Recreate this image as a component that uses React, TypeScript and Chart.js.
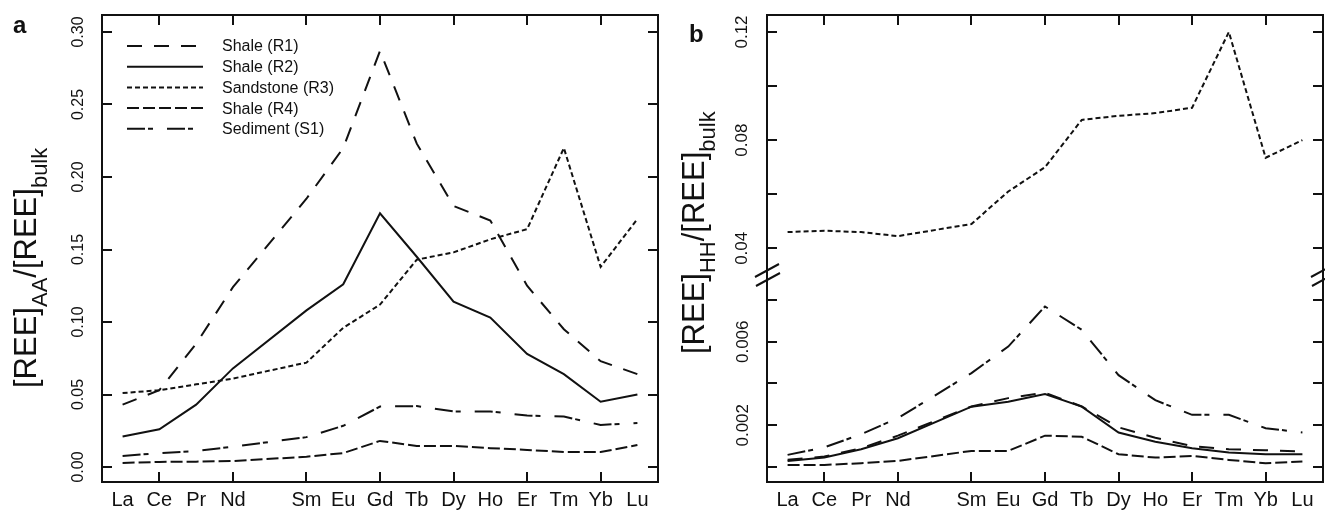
import React, { useEffect, useRef } from 'react';
import { Chart, registerables } from 'chart.js';

Chart.register(...registerables);

// ---------------- data ----------------
const elements = ['La', 'Ce', 'Pr', 'Nd', 'Sm', 'Eu', 'Gd', 'Tb', 'Dy', 'Ho', 'Er', 'Tm', 'Yb', 'Lu'];
const atomicNumbers = [57, 58, 59, 60, 62, 63, 64, 65, 66, 67, 68, 69, 70, 71];
const xTickMarks = [58, 60, 62, 64, 66, 68, 70];
const seriesNames = ['Shale (R1)', 'Shale (R2)', 'Sandstone (R3)', 'Shale (R4)', 'Sediment (S1)'];

// panel a: [REE]AA/[REE]bulk
const aShaleR1 = [0.043, 0.053, 0.085, 0.124, 0.185, 0.22, 0.287, 0.223, 0.18, 0.17, 0.125, 0.095, 0.073, 0.064];
const aShaleR2 = [0.021, 0.026, 0.043, 0.068, 0.108, 0.126, 0.175, 0.145, 0.114, 0.103, 0.078, 0.064, 0.045, 0.05];
const aSandstoneR3 = [0.051, 0.053, 0.057, 0.061, 0.072, 0.096, 0.112, 0.143, 0.148, 0.157, 0.164, 0.22, 0.138, 0.171];
const aShaleR4 = [0.0028, 0.0035, 0.0037, 0.0041, 0.0071, 0.0096, 0.018, 0.0145, 0.0145, 0.013, 0.0118, 0.0103, 0.0103, 0.0152];
const aSedimentS1 = [0.0076, 0.0096, 0.011, 0.014, 0.0206, 0.0284, 0.0417, 0.042, 0.0383, 0.0383, 0.0355, 0.0348, 0.029, 0.0304];

// panel b: [REE]HH/[REE]bulk
const bShaleR1 = [0.00035, 0.0005, 0.0009, 0.0015, 0.0029, 0.0033, 0.00356, 0.0029, 0.0019, 0.0014, 0.001, 0.00085, 0.0008, 0.00075];
const bShaleR2 = [0.00029, 0.00046, 0.00085, 0.00138, 0.00289, 0.00313, 0.0035, 0.00289, 0.00165, 0.00121, 0.0009, 0.00069, 0.00061, 0.00061];
const bSandstoneR3 = [0.046, 0.0465, 0.046, 0.0445, 0.049, 0.061, 0.07, 0.0875, 0.089, 0.09, 0.092, 0.12, 0.0735, 0.08];
const bShaleR4 = [0.0001, 0.0001, 0.00018, 0.00029, 0.00077, 0.00077, 0.0015, 0.00145, 0.00061, 0.00045, 0.00053, 0.00034, 0.00018, 0.00026];
const bSedimentS1 = [0.00058, 0.00094, 0.00157, 0.00234, 0.0045, 0.00577, 0.00769, 0.00657, 0.0044, 0.0032, 0.0025, 0.0025, 0.00186, 0.00165];

const aYTicks = [0, 0.05, 0.1, 0.15, 0.2, 0.25, 0.3];
const bUpperTicks = [0.04, 0.06, 0.08, 0.1, 0.12];
const bUpperLabeled = [0.04, 0.08, 0.12];
const bLowerTicks = [0, 0.002, 0.004, 0.006, 0.008];
const bLowerLabeled = [0.002, 0.006];

const aTitleParts = [
  { text: '[REE]', sub: false },
  { text: 'AA', sub: true },
  { text: '/[REE]', sub: false },
  { text: 'bulk', sub: true },
];
const bTitleParts = [
  { text: '[REE]', sub: false },
  { text: 'HH', sub: true },
  { text: '/[REE]', sub: false },
  { text: 'bulk', sub: true },
];

// ---------------- styles ----------------
const INK = '#111111';
const FONT = "'Liberation Sans', Arial, Helvetica, sans-serif";
const dashStyles = [[15, 12], [], [5, 3], [12, 4], [18, 3, 5, 14]];
const TICK_LEN = 10;

function makeDataset(label: string, values: number[], dash: number[], yAxisID: string) {
  return {
    label,
    data: atomicNumbers.map((x, i) => ({ x, y: values[i] })),
    borderColor: INK,
    backgroundColor: INK,
    borderWidth: 2,
    borderDash: dash,
    pointRadius: 0,
    pointHoverRadius: 0,
    fill: false,
    tension: 0,
    yAxisID,
  };
}

function isIn(list: number[], v: number) {
  return list.some((t) => Math.abs(t - v) < 1e-9);
}

function drawTitle(ctx: CanvasRenderingContext2D, parts: any[], baseX: number, startY: number) {
  ctx.save();
  ctx.translate(baseX, startY);
  ctx.rotate(-Math.PI / 2);
  ctx.fillStyle = INK;
  ctx.textBaseline = 'alphabetic';
  ctx.textAlign = 'left';
  let pos = 0;
  for (const p of parts) {
    ctx.font = p.sub ? `22px ${FONT}` : `31px ${FONT}`;
    ctx.fillText(p.text, pos, p.sub ? 11 : 0);
    pos += ctx.measureText(p.text).width;
  }
  ctx.restore();
}

function framePlugin(opts: any) {
  return {
    id: 'frameDecor',
    afterDraw(chart: any) {
      const ctx: CanvasRenderingContext2D = chart.ctx;
      const { left, right, top, bottom } = chart.chartArea;
      ctx.save();
      ctx.strokeStyle = INK;
      ctx.lineWidth = 2;
      ctx.setLineDash([]);
      ctx.lineCap = 'butt';
      ctx.strokeRect(left, top, right - left, bottom - top);
      ctx.beginPath();
      const xs = chart.scales.x;
      xTickMarks.forEach((v) => {
        const px = Math.round(xs.getPixelForValue(v));
        ctx.moveTo(px, bottom);
        ctx.lineTo(px, bottom - TICK_LEN);
        ctx.moveTo(px, top);
        ctx.lineTo(px, top + TICK_LEN);
      });
      opts.yIds.forEach((id: string) => {
        const s = chart.scales[id];
        s.ticks.forEach((t: any) => {
          const py = Math.round(s.getPixelForValue(t.value));
          ctx.moveTo(left, py);
          ctx.lineTo(left + TICK_LEN, py);
          ctx.moveTo(right, py);
          ctx.lineTo(right - TICK_LEN, py);
        });
      });
      ctx.stroke();

      if (opts.breakAt) {
        const by = chart.scales[opts.breakAt].bottom;
        ctx.lineWidth = 2;
        ctx.beginPath();
        [left, right].forEach((bx) => {
          [-4.5, 4.5].forEach((off, k) => {
            const cx = bx + k;
            const cy = by + off;
            ctx.moveTo(cx - 12, cy + 6.5);
            ctx.lineTo(cx + 12, cy - 6.5);
          });
        });
        ctx.stroke();
      }

      // panel letter
      ctx.fillStyle = INK;
      ctx.font = `bold 24px ${FONT}`;
      ctx.textBaseline = 'alphabetic';
      ctx.textAlign = 'left';
      ctx.fillText(opts.letter, opts.letterX, opts.letterY);

      drawTitle(ctx, opts.titleParts, opts.titleX, opts.titleY);

      if (opts.legend) {
        const lg = opts.legend;
        chart.data.datasets.forEach((ds: any, i: number) => {
          const y = lg.y0 + i * lg.dy;
          ctx.beginPath();
          ctx.setLineDash(ds.borderDash || []);
          ctx.lineWidth = 2;
          ctx.moveTo(lg.x0, y);
          ctx.lineTo(lg.x1, y);
          ctx.stroke();
          ctx.setLineDash([]);
          ctx.font = `16px ${FONT}`;
          ctx.textBaseline = 'middle';
          ctx.fillText(ds.label, lg.tx, y + 1);
        });
      }
      ctx.restore();
    },
  };
}

function xScaleConfig() {
  return {
    type: 'linear',
    min: 56.44,
    max: 71.56,
    afterBuildTicks: (s: any) => {
      s.ticks = atomicNumbers.map((v) => ({ value: v }));
    },
    afterFit: (s: any) => {
      s.height = 29;
      s.paddingLeft = 0;
      s.paddingRight = 0;
    },
    ticks: {
      autoSkip: false,
      minRotation: 0,
      maxRotation: 0,
      padding: 6,
      color: INK,
      font: { family: FONT, size: 20 },
      callback: (v: number) => {
        const i = atomicNumbers.indexOf(v);
        return i >= 0 ? elements[i] : '';
      },
    },
    grid: { display: false, drawTicks: false },
    border: { display: false },
  };
}

function yScaleConfig(min: number, max: number, ticks: number[], labeled: number[], digits: number, width: number, pad: number, size: number, extra: any = {}) {
  return {
    type: 'linear',
    position: 'left',
    min,
    max,
    afterBuildTicks: (s: any) => {
      s.ticks = ticks.map((v) => ({ value: v }));
    },
    afterFit: (s: any) => {
      s.width = width;
      s.paddingTop = 0;
      s.paddingBottom = 0;
    },
    ticks: {
      autoSkip: false,
      minRotation: 90,
      maxRotation: 90,
      crossAlign: 'center',
      padding: pad,
      color: INK,
      font: { family: FONT, size },
      callback: (v: number) => (isIn(labeled, v) ? v.toFixed(digits) : ''),
    },
    grid: { display: false, drawTicks: false },
    border: { display: false },
    ...extra,
  };
}

export default function App() {
  const refA = useRef<HTMLCanvasElement>(null);
  const refB = useRef<HTMLCanvasElement>(null);

  useEffect(() => {
    const common = {
      responsive: false,
      animation: false,
      devicePixelRatio: 1,
      events: [],
      plugins: { legend: { display: false }, tooltip: { enabled: false } },
    };

    const chartA = new Chart(refA.current as HTMLCanvasElement, {
      type: 'line',
      data: {
        datasets: [
          makeDataset(seriesNames[0], aShaleR1, dashStyles[0], 'y'),
          makeDataset(seriesNames[1], aShaleR2, dashStyles[1], 'y'),
          makeDataset(seriesNames[2], aSandstoneR3, dashStyles[2], 'y'),
          makeDataset(seriesNames[3], aShaleR4, dashStyles[3], 'y'),
          makeDataset(seriesNames[4], aSedimentS1, dashStyles[4], 'y'),
        ],
      },
      options: {
        ...common,
        layout: { padding: { left: 0, right: 4, top: 15, bottom: 0 } },
        scales: {
          x: xScaleConfig(),
          y: yScaleConfig(-0.01034, 0.31172, aYTicks, aYTicks, 2, 102, 8, 16),
        },
      } as any,
      plugins: [
        framePlugin({
          yIds: ['y'],
          letter: 'a',
          letterX: 13,
          letterY: 33,
          titleParts: aTitleParts,
          titleX: 36,
          titleY: 388,
          legend: { x0: 127, x1: 203, tx: 222, y0: 46, dy: 20.7 },
        }),
      ],
    } as any);

    const chartB = new Chart(refB.current as HTMLCanvasElement, {
      type: 'line',
      data: {
        datasets: [
          makeDataset(seriesNames[0], bShaleR1, dashStyles[0], 'yL'),
          makeDataset(seriesNames[1], bShaleR2, dashStyles[1], 'yL'),
          makeDataset(seriesNames[2], bSandstoneR3, dashStyles[2], 'yU'),
          makeDataset(seriesNames[3], bShaleR4, dashStyles[3], 'yL'),
          makeDataset(seriesNames[4], bSedimentS1, dashStyles[4], 'yL'),
        ],
      },
      options: {
        ...common,
        layout: { padding: { left: 0, right: 2, top: 15, bottom: 0 } },
        scales: {
          x: xScaleConfig(),
          yL: yScaleConfig(-0.000719, 0.009198, bLowerTicks, bLowerLabeled, 3, 105, 2.2, 17, { stack: 'b', stackWeight: 207 }),
          yU: yScaleConfig(0.03013, 0.12629, bUpperTicks, bUpperLabeled, 2, 105, 8, 17, { stack: 'b', stackWeight: 260 }),
        },
      } as any,
      plugins: [
        framePlugin({
          yIds: ['yU', 'yL'],
          breakAt: 'yU',
          letter: 'b',
          letterX: 27,
          letterY: 42,
          titleParts: bTitleParts,
          titleX: 42,
          titleY: 354,
        }),
      ],
    } as any);

    return () => {
      chartA.destroy();
      chartB.destroy();
    };
  }, []);

  return (
    <div style={{ position: 'fixed', left: 0, top: 0, width: 1325, height: 511, background: '#ffffff', overflow: 'hidden' }}>
      <canvas ref={refA} width={662} height={511} style={{ position: 'absolute', left: 0, top: 0, display: 'block' }} />
      <canvas ref={refB} width={663} height={511} style={{ position: 'absolute', left: 662, top: 0, display: 'block' }} />
    </div>
  );
}
